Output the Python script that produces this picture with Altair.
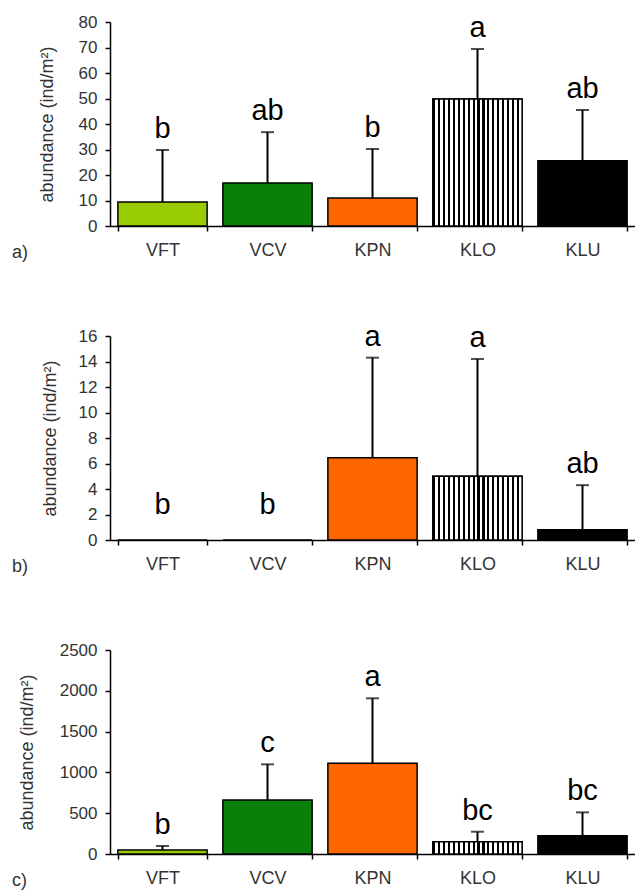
import altair as alt
import pandas as pd

# Sampling sites along the x axis and their bar fills
sites = ["VFT", "VCV", "KPN", "KLO", "KLU"]
site_colors = ["#99CC00", "#0A7F0A", "#FF6600", "#FFFFFF", "#000000"]

# a) mean abundance, standard deviation and significance letters
a_mean = [9.4, 16.9, 11.0, 49.8, 25.6]
a_sd = [20.4, 19.9, 19.2, 19.6, 19.9]
a_letters = ["b", "ab", "b", "a", "ab"]

# b)
b_mean = [0.0, 0.0, 6.45, 5.0, 0.8]
b_sd = [0.0, 0.0, 7.85, 9.2, 3.5]
b_letters = ["b", "b", "a", "a", "ab"]

# c)
c_mean = [49, 662, 1111, 151, 225]
c_sd = [49, 437, 797, 122, 285]
c_letters = ["b", "c", "a", "bc", "bc"]

# y axis ticks for each panel
a_ticks = [0, 10, 20, 30, 40, 50, 60, 70, 80]
b_ticks = [0, 2, 4, 6, 8, 10, 12, 14, 16]
c_ticks = [0, 500, 1000, 1500, 2000, 2500]

FONT = "Liberation Sans"
W, H = 525, 204
TITLE = "abundance (ind/m²)"

# vertical hatching for the KLO bars, built as a hard-stop linear gradient
n_stripes = 18
stops = []
for i in range(n_stripes):
    s = i / n_stripes
    e = (i + 0.42) / n_stripes
    stops += [
        alt.GradientStop(offset=s, color="black"),
        alt.GradientStop(offset=e, color="black"),
        alt.GradientStop(offset=e, color="white"),
        alt.GradientStop(offset=(i + 1) / n_stripes, color="white"),
    ]
hatch = alt.LinearGradient(gradient="linear", stops=stops, x1=0, x2=1, y1=0, y2=0)


def panel(mean, sd, letters, ticks, tag, title_x):
    ymax = ticks[-1]
    upper = [m + s for m, s in zip(mean, sd)]
    df = pd.DataFrame({
        "site": sites,
        "mean": mean,
        "upper": upper,
        "letter": letters,
        "anchor": [u if u > 0 else ymax * 0.07 for u in upper],
    })
    base = alt.Chart(df)

    x = alt.X(
        "site:N", sort=sites,
        scale=alt.Scale(paddingInner=0.15, paddingOuter=0.075),
        axis=alt.Axis(
            title=None, labelAngle=0, labelFontSize=18, labelColor="#333333",
            labelPadding=10, tickBand="extent", tickSize=5, tickColor="black",
            tickWidth=1.5, domainColor="black", domainWidth=1.5,
        ),
    )
    y_scale = alt.Scale(domain=[0, ymax], nice=False)
    y_axis = alt.Axis(
        values=ticks, format="d", labelOverlap=False, tickCount=len(ticks),
        title=TITLE, titleX=title_x, titleY=H / 2,
        titleAngle=270, titleBaseline="middle", titleAlign="center",
        titleFontSize=18, titleFontWeight="normal", titleColor="#333333",
        labelFontSize=17, labelColor="#333333", labelPadding=8,
        tickSize=5, tickColor="black", tickWidth=1.5,
        domainColor="black", domainWidth=1.5, grid=False,
    )

    def y(field):
        return alt.Y(field, scale=y_scale, axis=y_axis, title=TITLE)

    bars = base.mark_bar(stroke="black", strokeWidth=1.5).encode(
        x=x, y=y("mean:Q"),
        color=alt.Color("site:N", scale=alt.Scale(domain=sites, range=site_colors), legend=None),
    )
    striped = base.transform_filter(alt.datum.site == "KLO").mark_bar(
        fill=hatch, stroke="black", strokeWidth=1.5
    ).encode(x=x, y=y("mean:Q"))
    whisker = base.mark_rule(color="black", strokeWidth=2).encode(
        x=x, y=y("mean:Q"), y2="upper:Q"
    )
    cap = base.transform_filter(alt.datum.upper > 0).mark_tick(
        color="black", size=13, thickness=2
    ).encode(x=x, y=y("upper:Q"))
    letters_txt = base.mark_text(
        fontSize=29, baseline="alphabetic", dy=-12, font=FONT, color="black"
    ).encode(x=x, y=y("anchor:Q"), text="letter:N")
    tag_txt = alt.Chart(pd.DataFrame({"tag": [tag]})).mark_text(
        align="left", baseline="middle", fontSize=18, font=FONT, color="#333333"
    ).encode(x=alt.value(-98), y=alt.value(H + 27), text="tag:N")

    return alt.layer(bars, striped, whisker, cap, letters_txt, tag_txt).properties(
        width=W, height=H
    )


pa = panel(a_mean, a_sd, a_letters, a_ticks, "a)", -63)
pb = panel(b_mean, b_sd, b_letters, b_ticks, "b)", -60)
pc = panel(c_mean, c_sd, c_letters, c_ticks, "c)", -83)

chart = (
    alt.vconcat(pa, pb, pc, spacing=110, bounds="flush")
    .properties(padding={"left": 12, "top": 13, "right": 0, "bottom": 0})
    .configure_view(stroke=None)
    .configure_axis(labelFont=FONT, titleFont=FONT)
    .configure_text(font=FONT)
)

chart.save("out.html", embed_options={"renderer": "svg", "actions": False})
